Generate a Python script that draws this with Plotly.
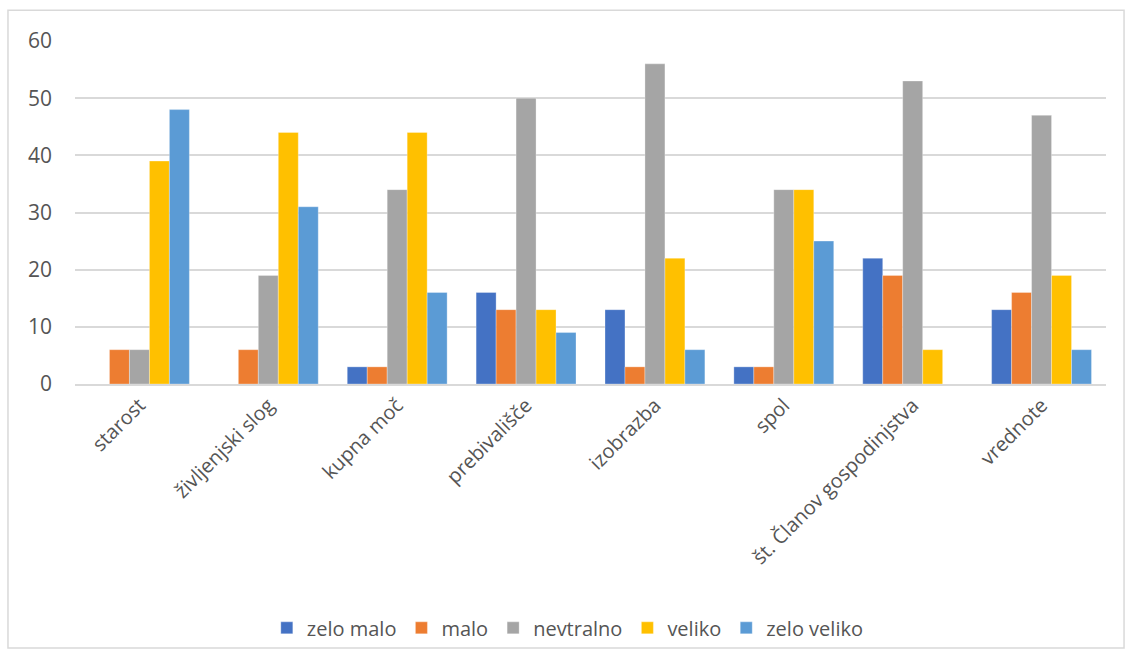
import plotly.graph_objects as go

categories = ["starost", "življenjski slog", "kupna moč", "prebivališče", "izobrazba",
              "spol", "št. Članov gospodinjstva", "vrednote"]
series_names = ["zelo malo", "malo", "nevtralno", "veliko", "zelo veliko"]
zelo_malo = [0, 0, 3, 16, 13, 3, 22, 13]
malo = [6, 6, 3, 13, 3, 3, 19, 16]
nevtralno = [6, 19, 34, 50, 56, 34, 53, 47]
veliko = [39, 44, 44, 13, 22, 34, 6, 19]
zelo_veliko = [48, 31, 16, 9, 6, 25, 0, 6]
colors = ["#4472C4", "#ED7D31", "#A5A5A5", "#FFC000", "#5B9BD5"]
y_ticks = [0, 10, 20, 30, 40, 50, 60]

values = [zelo_malo, malo, nevtralno, veliko, zelo_veliko]

fig = go.Figure()
for name, vals, col in zip(series_names, values, colors):
    fig.add_trace(go.Bar(x=categories, y=vals, name=name,
                         marker=dict(color=col, line=dict(width=0.6, color="rgba(255,255,255,0.5)"))))

fig.update_layout(
    width=1130, height=657,
    barmode="group", bargap=0.225, bargroupgap=0,
    plot_bgcolor="white", paper_bgcolor="white",
    margin=dict(l=75, r=24, t=41, b=272),
    font=dict(family="Open Sans, Liberation Sans, sans-serif", color="#555555", size=20),
    legend=dict(orientation="h", x=0.478, xanchor="center", y=-0.706, yanchor="middle",
                font=dict(size=20, color="#555555"), itemwidth=30, traceorder="normal"),
    shapes=[dict(type="rect", xref="paper", yref="paper", x0=-0.065, x1=1.0175,
                 y0=-0.77, y1=1.09, line=dict(color="#D9D9D9", width=1.5))],
)
fig.update_xaxes(tickangle=-45, showgrid=False, showline=True, linecolor="#D9D9D9",
                 linewidth=1.5, ticks="", tickfont=dict(size=20, color="#555555"))
fig.update_yaxes(range=[0, 60], tickvals=y_ticks, showgrid=True, gridcolor="#D9D9D9",
                 gridwidth=1.5, zeroline=False, showline=False, ticks="",
                 tickfont=dict(size=21, color="#555555"), ticklabelstandoff=22)

fig.write_html("out.html")
